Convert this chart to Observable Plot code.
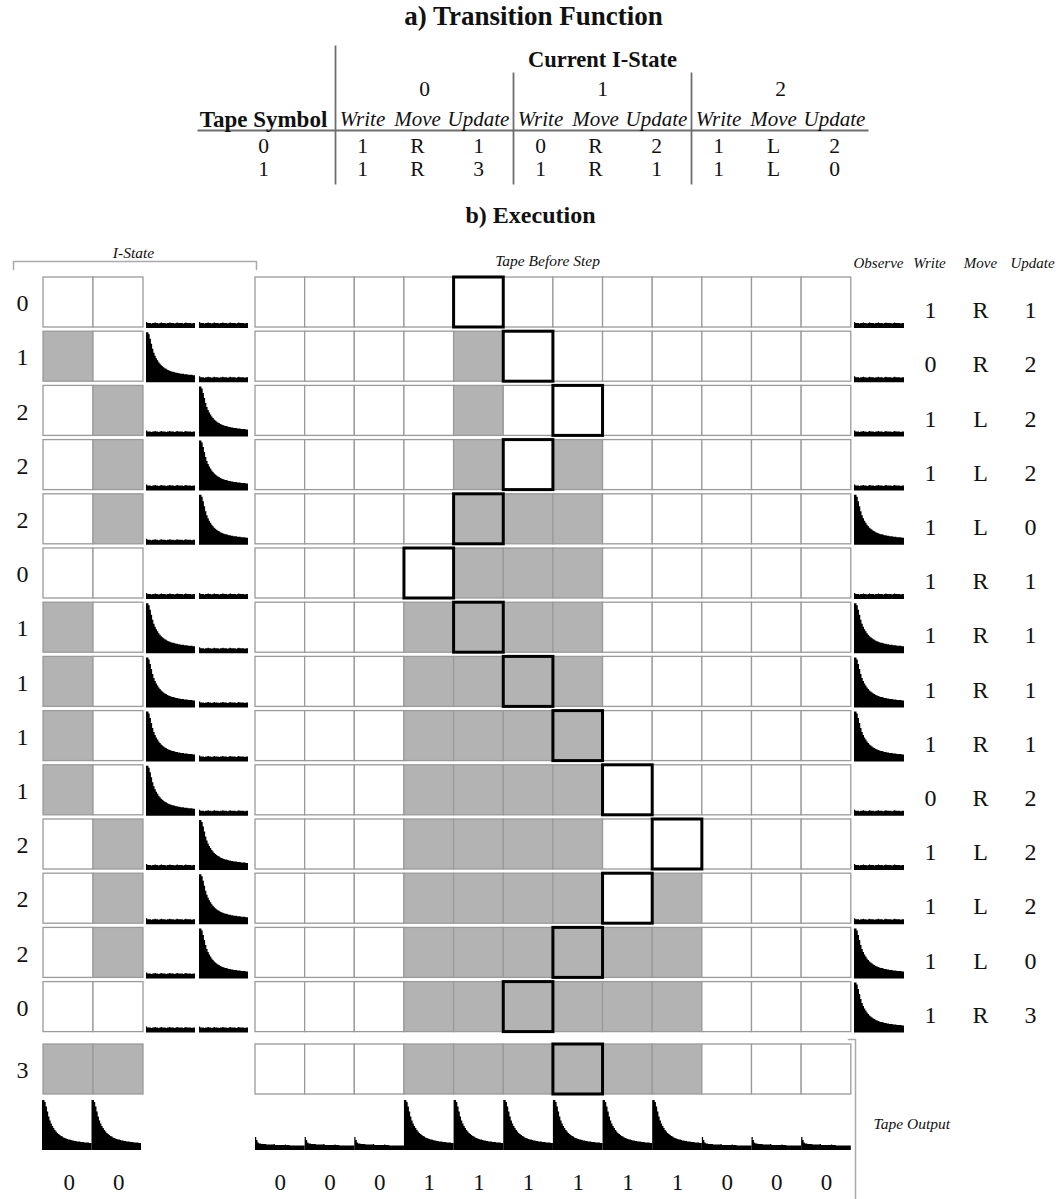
<!DOCTYPE html>
<html><head><meta charset="utf-8">
<script src="https://cdn.jsdelivr.net/npm/d3@7"></script>
<script src="https://cdn.jsdelivr.net/npm/@observablehq/plot@0.6"></script>
<style>body{margin:0;background:#fff} #chart svg{display:block}</style>
</head><body><div id="chart"></div>
<script>
// ---------- DATA ----------
// a) Transition function: [state][tape symbol]
const tfStates = [0, 1, 2];
const tfSymbols = [0, 1];
const tfWrite  = [[1, 1], [0, 1], [1, 1]];
const tfMove   = [["R", "R"], ["R", "R"], ["L", "L"]];
const tfUpdate = [[1, 3], [2, 1], [2, 0]];
const tfSubHeaders = ["Write", "Move", "Update"];

// b) Execution, one entry per step
const stepState  = [0, 1, 2, 2, 2, 0, 1, 1, 1, 1, 2, 2, 2, 0];
const stepHead   = [4, 5, 6, 5, 4, 3, 4, 5, 6, 7, 8, 7, 6, 5];
const stepTape = [
  "000000000000",
  "000010000000",
  "000010000000",
  "000010100000",
  "000011100000",
  "000011100000",
  "000111100000",
  "000111100000",
  "000111100000",
  "000111100000",
  "000111100000",
  "000111101000",
  "000111111000",
  "000111111000"
];
const stepObserve = [0, 0, 0, 0, 1, 0, 1, 1, 1, 0, 0, 0, 1, 1];
const stepWrite  = [1, 0, 1, 1, 1, 1, 1, 1, 1, 0, 1, 1, 1, 1];
const stepMove   = ["R", "R", "L", "L", "L", "R", "R", "R", "R", "R", "L", "L", "L", "R"];
const stepUpdate = [1, 2, 2, 2, 0, 1, 1, 1, 1, 2, 2, 2, 0, 3];
const finalState = 3;
const finalHead = 6;
const finalTape = "000111111000";
// I-state encoding: two units per state
const stateBits = [[0, 0], [1, 0], [0, 1], [1, 1]];

// spectrum profiles (fraction of full height)
const peakProfile = [1.0, 1.0, 0.96, 0.87, 0.77, 0.67, 0.59, 0.53, 0.48, 0.44, 0.4, 0.37,
  0.34, 0.32, 0.3, 0.28, 0.27, 0.25, 0.24, 0.23, 0.22, 0.21, 0.21, 0.2, 0.19, 0.19, 0.18,
  0.18, 0.17, 0.17, 0.17, 0.16, 0.16, 0.16, 0.15, 0.15, 0.15, 0.15, 0.14, 0.14];
const flatProfile = [0.12, 0.1, 0.1, 0.1, 0.09, 0.1, 0.1, 0.11, 0.1, 0.1, 0.09, 0.1, 0.11,
  0.1, 0.1, 0.1, 0.09, 0.1, 0.1, 0.11, 0.1, 0.1, 0.1, 0.09, 0.1, 0.11, 0.1, 0.1, 0.1, 0.1,
  0.09, 0.1, 0.11, 0.1, 0.1, 0.1, 0.1, 0.09, 0.1, 0.1];
const zeroOutProfile = [0.26, 0.2, 0.15, 0.13, 0.13, 0.12, 0.12, 0.12, 0.12, 0.11, 0.11,
  0.11, 0.11, 0.11, 0.11, 0.12, 0.1, 0.1, 0.1, 0.1, 0.1, 0.1, 0.1, 0.1, 0.11, 0.1, 0.1,
  0.1, 0.09, 0.09, 0.09, 0.09, 0.09, 0.09, 0.09, 0.09, 0.09, 0.09, 0.09, 0.09];

// ---------- LAYOUT ----------
const W = 1061, H = 1199;
const LY = {
  rowTop0: 277, rowPitch: 54.2, boxH: 50,
  isX0: 43, isW: 50,
  specX: [146, 199], specW: 49,
  tapeX0: 255, cellW: 49.65,
  obsX: 854,
  colX: [930, 980, 1030],
  labelX: 22,
  finalTop: 1044, outTop: 1099, outLabelY: 1182,
  outIsX0: 42, outIsW: 49.5,
  tblGroupX0: 335, tblGroupW: 178, tblSubOff: [27, 82, 143],
  tblRowY: [146, 169]
};
const GREY = "#b3b3b3", EDGE = "#9a9a9a", INK = "#111111";
const rowTop = i => LY.rowTop0 + i * LY.rowPitch;

// ---------- BUILD MARK TABLES ----------
const texts = [];   // {x,y,text,size,weight,style,anchor}
const T = (x, y, text, size, weight = "normal", style = "normal", anchor = "middle") =>
  texts.push({x, y, text: String(text), size, weight, style, anchor});

// table
T(533, 16, "a) Transition Function", 27, "bold");
T(602, 59, "Current I-State", 22.5, "bold");
T(263, 119, "Tape Symbol", 23, "bold");
tfStates.forEach((s, si) => {
  const gx = LY.tblGroupX0 + si * LY.tblGroupW;
  T(gx + LY.tblGroupW / 2, 89, s, 21.5);
  tfSubHeaders.forEach((h, k) => T(gx + LY.tblSubOff[k], 119, h, 21, "normal", "italic"));
  tfSymbols.forEach((sym, yi) => {
    T(gx + LY.tblSubOff[0], LY.tblRowY[yi], tfWrite[si][yi], 21.5);
    T(gx + LY.tblSubOff[1], LY.tblRowY[yi], tfMove[si][yi], 21.5);
    T(gx + LY.tblSubOff[2], LY.tblRowY[yi], tfUpdate[si][yi], 21.5);
  });
});
tfSymbols.forEach((sym, yi) => T(263, LY.tblRowY[yi], sym, 21.5));

const tblLines = [
  {x1: 335, y1: 45, x2: 335, y2: 184},
  {x1: 513, y1: 72, x2: 513, y2: 184},
  {x1: 691, y1: 72, x2: 691, y2: 184},
  {x1: 197, y1: 130, x2: 868, y2: 130}
];

// execution headers
T(530, 215, "b) Execution", 24, "bold");
T(133, 253, "I-State", 15.5, "normal", "italic");
T(547, 261, "Tape Before Step", 15.5, "normal", "italic");
["Observe", "Write", "Move", "Update"].forEach((h, k) =>
  T([878, 929, 980, 1032][k], 263, h, 15, "normal", "italic"));
T(873, 1124, "Tape Output", 15.5, "normal", "italic", "start");

const brackets = [
  {id: "is", pts: [[13, 269], [13, 261], [256, 261], [256, 269]]},
  {id: "out", pts: [[848, 1039], [855, 1039], [855, 1199]]}
].flatMap(b => b.pts.map(([x, y]) => ({id: b.id, x, y})));

const cells = [];   // {x1,x2,y1,y2,fill}
const heads = [];
const specs = [];   // area points
let specId = 0;
function spectrum(x0, w, yBase, h, profile) {
  const n = profile.length, id = specId++;
  profile.forEach((v, i) => specs.push({id, x: x0 + i * w / n, yb: yBase, yt: yBase - v * h}));
  specs.push({id, x: x0 + w, yb: yBase, yt: yBase - profile[n - 1] * h});
}

function drawRow(top, state, tape, head) {
  T(LY.labelX, top + 26, state, 24);
  stateBits[state].forEach((b, k) => cells.push({
    x1: LY.isX0 + k * LY.isW, x2: LY.isX0 + (k + 1) * LY.isW,
    y1: top, y2: top + LY.boxH, fill: b ? GREY : "white"}));
  tape.split("").forEach((c, j) => cells.push({
    x1: LY.tapeX0 + j * LY.cellW, x2: LY.tapeX0 + (j + 1) * LY.cellW,
    y1: top, y2: top + LY.boxH, fill: c === "1" ? GREY : "white"}));
  heads.push({x1: LY.tapeX0 + head * LY.cellW, x2: LY.tapeX0 + (head + 1) * LY.cellW,
    y1: top, y2: top + LY.boxH});
}

stepState.forEach((s, i) => {
  const top = rowTop(i);
  drawRow(top, s, stepTape[i], stepHead[i]);
  stateBits[s].forEach((b, k) =>
    spectrum(LY.specX[k], LY.specW, top + 51, 50, b ? peakProfile : flatProfile));
  spectrum(LY.obsX, 50, top + 51, 50, stepObserve[i] ? peakProfile : flatProfile);
  T(LY.colX[0], top + 33, stepWrite[i], 24);
  T(LY.colX[1], top + 33, stepMove[i], 24);
  T(LY.colX[2], top + 33, stepUpdate[i], 24);
});

// final row and outputs
drawRow(LY.finalTop, finalState, finalTape, finalHead);
stateBits[finalState].forEach((b, k) => {
  spectrum(LY.outIsX0 + k * LY.outIsW, LY.outIsW, LY.outTop + 51, 50, b ? peakProfile : zeroOutProfile);
  T(LY.outIsX0 + (k + 0.5) * LY.outIsW + 2, LY.outLabelY, 0, 23);
});
finalTape.split("").forEach((c, j) => {
  spectrum(LY.tapeX0 + j * LY.cellW, LY.cellW, LY.outTop + 51, 50, c === "1" ? peakProfile : zeroOutProfile);
  T(LY.tapeX0 + (j + 0.5) * LY.cellW, LY.outLabelY, c, 23);
});

// ---------- PLOT ----------
const textMarks = [];
for (const size of [...new Set(texts.map(t => t.size))]) {
  for (const weight of ["normal", "bold"]) for (const style of ["normal", "italic"]) for (const anchor of ["middle", "start"]) {
    const d = texts.filter(t => t.size === size && t.weight === weight && t.style === style && t.anchor === anchor);
    if (d.length) textMarks.push(Plot.text(d, {x: "x", y: "y", text: "text", fontSize: size,
      fontWeight: weight, fontStyle: style, textAnchor: anchor, fill: INK}));
  }
}

const chart = Plot.plot({
  width: W, height: H, margin: 0,
  x: {domain: [0, W], range: [0, W], axis: null},
  y: {domain: [0, H], range: [0, H], axis: null},
  color: {type: "identity"},
  style: {fontFamily: "'Liberation Serif', 'Times New Roman', serif", background: "white"},
  marks: [
    Plot.link(tblLines, {x1: "x1", y1: "y1", x2: "x2", y2: "y2", stroke: "#6e6e6e", strokeWidth: 1.8}),
    Plot.line(brackets, {x: "x", y: "y", z: "id", stroke: "#aaaaaa", strokeWidth: 1.5}),
    Plot.rect(cells, {x1: "x1", x2: "x2", y1: "y1", y2: "y2", fill: "fill", stroke: EDGE, strokeWidth: 1.3}),
    Plot.rect(heads, {x1: "x1", x2: "x2", y1: "y1", y2: "y2", fill: "none", stroke: "black", strokeWidth: 3}),
    Plot.area(specs, {x1: "x", y1: "yb", y2: "yt", z: "id", curve: "step-after", fill: "black"}),
    ...textMarks
  ]
});
document.getElementById("chart").append(chart);
</script>
</body></html>
